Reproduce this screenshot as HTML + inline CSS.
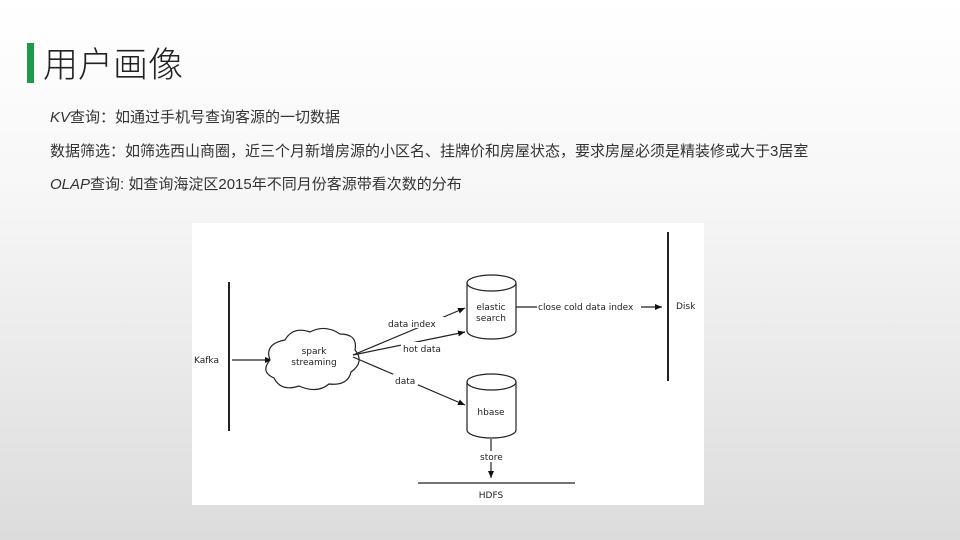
<!DOCTYPE html>
<html><head><meta charset="utf-8"><style>
body{margin:0;width:960px;height:540px;overflow:hidden;background:linear-gradient(#ffffff 0%,#f7f7f7 35%,#dcdcdc 100%);font-family:"Liberation Sans","Noto Sans CJK SC",sans-serif;position:relative}
.bar{position:absolute;left:27px;top:43px;width:7px;height:40px;background:#1f9a4b}
.title{position:absolute;left:43px;top:37px;font-size:35px;color:#222;font-weight:300}
.t{position:absolute;left:50px;font-size:15px;color:#333}
.box{position:absolute;left:192px;top:223px;width:512px;height:282px;background:#fff}
</style></head><body>
<div class="bar"></div><div class="title">用户画像</div>
<div class="t" style="top:106px"><i>KV</i>查询：如通过手机号查询客源的一切数据</div>
<div class="t" style="top:140px">数据筛选：如筛选西山商圈，近三个月新增房源的小区名、挂牌价和房屋状态，要求房屋必须是精装修或大于3居室</div>
<div class="t" style="top:173px"><i>OLAP</i>查询: 如查询海淀区2015年不同月份客源带看次数的分布</div>
<div class="box"></div>
<svg width="960" height="540" style="position:absolute;left:0;top:0" font-family="DejaVu Sans, Liberation Sans, sans-serif" font-size="9" fill="#222">
<defs><marker id="a" markerWidth="8" markerHeight="8" refX="7" refY="4" orient="auto" markerUnits="userSpaceOnUse"><path d="M0,1 L7,4 L0,7 z" fill="#111"/></marker></defs>
<g stroke="#222" stroke-width="1.2" fill="none">
<line x1="229" y1="282" x2="229" y2="431" stroke-width="2"/>
<line x1="668" y1="232" x2="668" y2="381" stroke-width="2"/>
<line x1="232" y1="360" x2="272" y2="360" marker-end="url(#a)"/>
<path d="M285,340 q8,-14 25,-8 q15,-8 30,2 q18,0 15,16 q10,12 -4,22 q-3,14 -22,12 q-12,10 -30,2 q-18,6 -25,-8 q-14,-6 -4,-18 q-6,-16 15,-20 z" fill="#fff"/>
<path d="M467,283 v48 a24.5,8 0 0 0 49,0 v-48" fill="#fff"/><ellipse cx="491.5" cy="283" rx="24.5" ry="8" fill="#fff"/>
<path d="M467,382 v48 a24.5,8 0 0 0 49,0 v-48" fill="#fff"/><ellipse cx="491.5" cy="382" rx="24.5" ry="8" fill="#fff"/>
<line x1="353" y1="355" x2="465" y2="308" marker-end="url(#a)"/>
<line x1="353" y1="355" x2="465" y2="332" marker-end="url(#a)"/>
<line x1="353" y1="357" x2="465" y2="405" marker-end="url(#a)"/>
<line x1="516" y1="307" x2="662" y2="307" marker-end="url(#a)"/>
<line x1="491" y1="439" x2="491" y2="478" marker-end="url(#a)"/>
<line x1="418" y1="483" x2="575" y2="483"/>
</g>
<g stroke="none">
<rect x="386" y="317" width="58" height="11" fill="#fff"/><text x="388" y="327">data index</text>
<rect x="401" y="342" width="46" height="11" fill="#fff"/><text x="403" y="352">hot data</text>
<rect x="393" y="374" width="25" height="11" fill="#fff"/><text x="395" y="384">data</text>
<rect x="537" y="301" width="104" height="11" fill="#fff"/><text x="538" y="310">close cold data index</text>
<rect x="478" y="451" width="30" height="11" fill="#fff"/><text x="480" y="460">store</text>
<text x="491" y="310" text-anchor="middle">elastic</text><text x="491" y="321" text-anchor="middle">search</text>
<text x="491" y="415" text-anchor="middle">hbase</text>
<text x="314" y="354" text-anchor="middle">spark</text><text x="314" y="365" text-anchor="middle">streaming</text>
<text x="194" y="363">Kafka</text><text x="676" y="309">Disk</text>
<text x="491" y="498" text-anchor="middle">HDFS</text>
</g></svg>
</body></html>
